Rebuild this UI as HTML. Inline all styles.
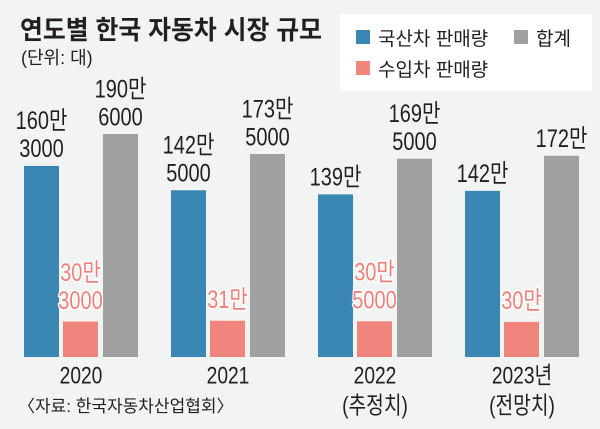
<!DOCTYPE html>
<html><head><meta charset="utf-8"><style>
html,body{margin:0;padding:0;background:#f2f3f3}
svg{display:block;font-family:"Liberation Sans","Noto Sans CJK KR",sans-serif}
</style></head><body>
<svg id="chart" width="600" height="429" viewBox="0 0 600 429" xmlns="http://www.w3.org/2000/svg">
<rect x="0" y="0" width="600" height="429" fill="#f2f3f3"/>
<text x="20" y="39" font-size="26" font-weight="bold" fill="#231f20" textLength="302" lengthAdjust="spacingAndGlyphs">연도별 한국 자동차 시장 규모</text>
<text x="21" y="64" font-size="18" fill="#231f20">(단위: 대)</text>
<g>
<rect x="340" y="14" width="252" height="77" fill="#ffffff"/>
<rect x="356" y="30" width="14" height="14" fill="#3b87b3"/>
<text x="378" y="45" font-size="19" fill="#231f20">국산차 판매량</text>
<rect x="514" y="30" width="14" height="14" fill="#a0a0a0"/>
<text x="536" y="45" font-size="19" fill="#231f20">합계</text>
<rect x="356" y="61" width="14" height="14" fill="#f0857d"/>
<text x="378" y="76" font-size="19" fill="#231f20">수입차 판매량</text>
</g>
<g id="bars"></g>
<g id="labels"></g>
<text x="18" y="412" font-size="17" fill="#231f20">〈자료: 한국자동차산업협회〉</text>
</svg>
<script>
const categories = ["2020", "2021", "2022", "2023년"];
const subLabels = ["", "", "(추정치)", "(전망치)"];
const domestic = [163.3, 142.5, 139, 142];
const imported = [30.3, 31, 30.5, 30];
const total = [190.6, 173.5, 169.5, 172];
const domesticText = [["160만","3000"],["142만","5000"],["139만"],["142만"]];
const importText = [["30만","3000"],["31만"],["30만","5000"],["30만"]];
const totalText = [["190만","6000"],["173만","5000"],["169만","5000"],["172만"]];

const NS = "http://www.w3.org/2000/svg";
const baseY = 357, k = 1.17;
function yScale(v){ return baseY - v * k; }
function xGroup(i){ return 24 + i * 147; }
const barW = 35;
const bars = document.getElementById("bars");
const labels = document.getElementById("labels");

function addText(parent, x, y, str, size, color, bold, name){
  const g = document.createElementNS(NS, "g");
  g.setAttribute("transform", "translate(" + x + "," + y + ") scale(0.8,1)");
  const t = document.createElementNS(NS, "text");
  t.setAttribute("x", 0); t.setAttribute("y", 0);
  t.setAttribute("text-anchor", "middle");
  t.setAttribute("dominant-baseline", "central");
  t.setAttribute("font-size", size);
  t.setAttribute("fill", color);
  if (bold) {
    t.setAttribute("stroke", "#ffffff");
    t.setAttribute("stroke-width", "3");
    t.setAttribute("paint-order", "stroke");
  }
  t.textContent = str;
  
  
  g.appendChild(t);
  parent.appendChild(g);
}

const series = [
  {vals: domestic, color: "#3b87b3", off: 0, txt: domesticText, name: "domestic", lc: "#231f20", bold: false, gap: 17},
  {vals: imported, color: "#f0857d", off: 39, txt: importText, name: "import", lc: "#ef7f79", bold: true, gap: 21},
  {vals: total, color: "#a0a0a0", off: 79, txt: totalText, name: "total", lc: "#231f20", bold: false, gap: 17}
];
categories.forEach((c, i) => {
  series.forEach(s => {
    const x = xGroup(i) + s.off;
    const top = yScale(s.vals[i]);
    const r = document.createElementNS(NS, "rect");
    r.setAttribute("x", x); r.setAttribute("y", top);
    r.setAttribute("width", barW); r.setAttribute("height", baseY - top);
    r.setAttribute("fill", s.color);
    
    
    bars.appendChild(r);
    const lines = s.txt[i];
    lines.forEach((ln, j) => {
      const cy = top - s.gap - (lines.length - 1 - j) * 28;
      addText(labels, x + barW / 2, cy, ln, 25, s.lc, s.bold, 'value-label-' + s.name + '-' + i);
    });
  });
  const cx = xGroup(i) + 57;
  addText(labels, cx, 375, c, 24, "#231f20", false, 'x-axis-label-' + i);
  if (subLabels[i]) addText(labels, cx, 405, subLabels[i], 24, "#231f20", false, 'x-axis-sublabel-' + i);
});
</script>
</body></html>
